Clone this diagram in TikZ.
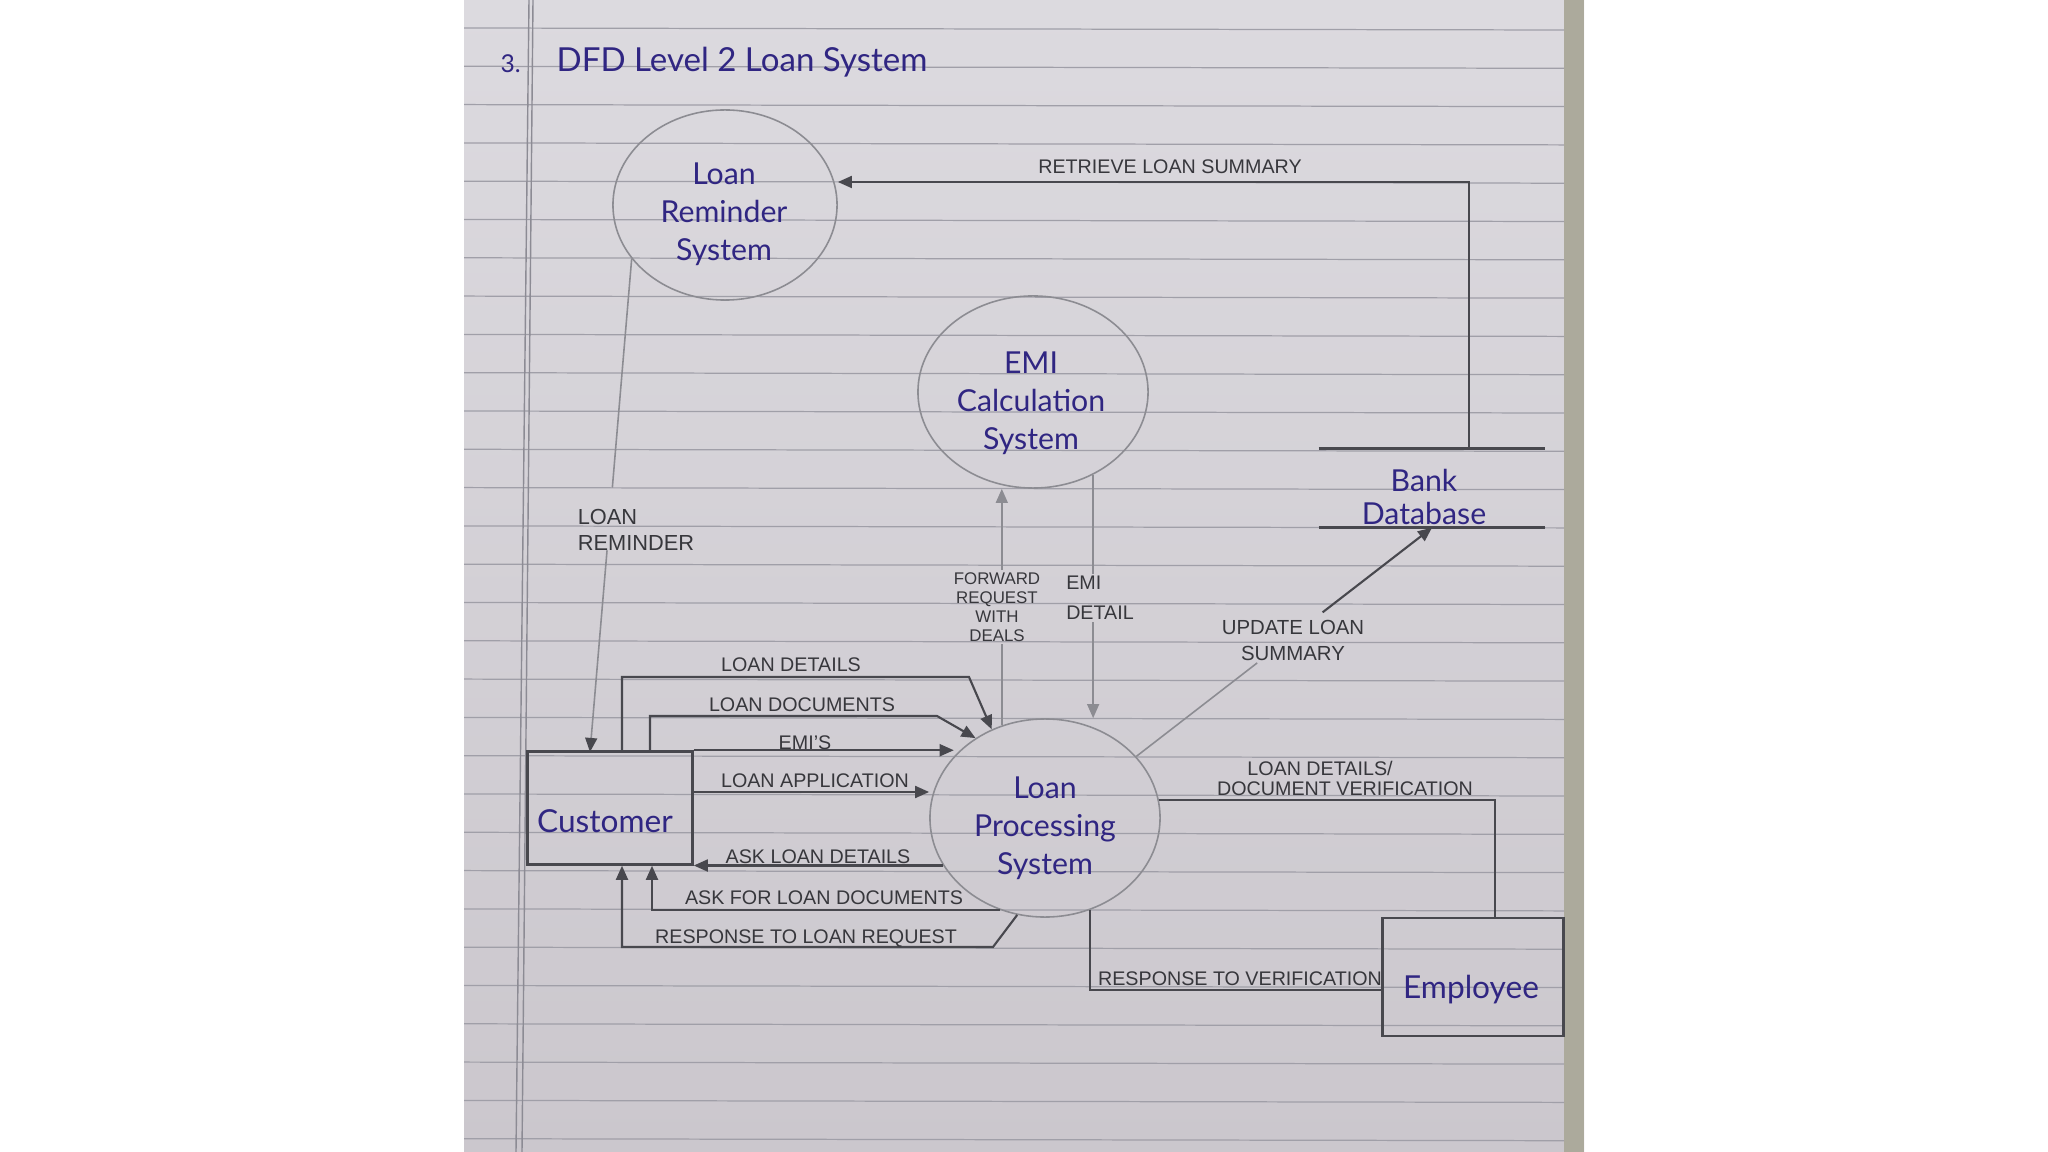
\documentclass[tikz,border=0pt]{standalone}
\usepackage{fontspec}
\setmainfont{Liberation Sans}
\newfontfamily\inkfont{Lato}
\usetikzlibrary{arrows.meta, shapes.geometric, calc}
\definecolor{papert}{RGB}{220,218,223}
\definecolor{paperb}{RGB}{203,199,205}
\definecolor{pedge}{RGB}{172,170,156}
\definecolor{rline}{RGB}{160,159,168}
\definecolor{mline}{RGB}{140,139,148}
\definecolor{pen}  {RGB}{ 72, 72, 78}
\definecolor{faint}{RGB}{140,140,146}
\definecolor{ink}  {RGB}{ 48, 38,130}
\definecolor{lbl}  {RGB}{ 55, 55, 60}
\tikzset{
  RL/.style={rline, line width=0.35pt},
  PR/.style={ellipse, draw=faint, line width=0.45pt, inner sep=0pt},
  PT/.style={text=ink, inner sep=0pt, align=center,
             font=\inkfont\fontsize{8.6}{10.8}\selectfont},
  EX/.style={rectangle, draw=pen, line width=0.7pt, inner sep=0pt},
  ET/.style={text=ink, inner sep=0pt, font=\inkfont\fontsize{9}{11}\selectfont},
  DT/.style={text=ink, inner sep=0pt, align=center,
             font=\inkfont\fontsize{8.6}{9.6}\selectfont},
  SL/.style={pen, line width=0.7pt},
  FL/.style={pen, line width=0.6pt, -{Triangle[length=4pt,width=3.4pt]}},
  FN/.style={pen, line width=0.6pt},
  LA/.style={faint, line width=0.45pt, -{Triangle[length=4pt,width=3.4pt]}},
  LN/.style={faint, line width=0.45pt},
  LB/.style={text=lbl, inner sep=0.5pt, font=\fontsize{5.6}{8.5}\selectfont},
  TT/.style={text=ink, inner sep=0pt, font=\inkfont\fontsize{9.4}{11}\selectfont},
}
\newcommand{\RY}{28}
\newcommand{\RS}{38.3}

\begin{document}
\begin{tikzpicture}[x=0.01cm, y=-0.01cm]
\useasboundingbox (0,0) rectangle (2048,1152);

%% ================================================================
%%  SHEET
%% ================================================================
\fill[white] (0,0) rectangle (2048,1152);
\shade[top color=papert, bottom color=paperb] (464,0) rectangle (1584,1152);
\fill[pedge] (1564,0) rectangle (1584,1152);
\foreach \k in {0,...,29}
  \draw[RL] (464,{\RY+\RS*\k}) -- (1564,{\RY+\RS*\k+2});
% margin
\draw[mline, line width=0.4pt] (529,0) -- (516,1152);
\draw[mline, line width=0.4pt] (533,0) -- (522,1152);

%% ================================================================
%%  TITLE
%% ================================================================
\node[TT, anchor=west, font=\inkfont\fontsize{7}{8}\selectfont] (num) at (500,64) {3.};
\node[TT, anchor=west] (title) at (556,62) {DFD Level 2 Loan System};

%% ================================================================
%%  PROCESSES, ENTITIES, STORE
%% ================================================================
\node[PR, minimum width=2.24cm, minimum height=1.90cm] (lrs) at (725,205) {};
\node[PT] (lrsT) at (724,214) {Loan\\Reminder\\System};
\node[PR, minimum width=2.30cm, minimum height=1.92cm] (emi) at (1033,392) {};
\node[PT] (emiT) at (1031,403) {EMI\\Calculation\\System};
\node[PR, minimum width=2.30cm, minimum height=1.98cm] (lps) at (1045,818) {};
\node[PT] (lpsT) at (1045,828) {Loan\\Processing\\System};

\node[EX, minimum width=1.65cm, minimum height=1.13cm] (cust) at (610,808) {};
\node[ET] (custT) at (605,821) {Customer};
\node[EX, minimum width=1.81cm, minimum height=1.18cm] (emp) at (1473,977) {};
\node[ET] (empT) at (1471,990) {Employee};

\node[minimum width=2.25cm, minimum height=0.78cm, inner sep=0pt] (bank) at (1432,488) {};
\node[DT] (bankT) at (1424,497) {Bank\\Database};
\draw[SL] (bank.north west) -- (bank.north east);
\draw[SL] (bank.south west) -- (bank.south east);

%% ================================================================
%%  FLOWS
%% ================================================================
% retrieve loan summary
\coordinate (rt) at (1469,182);
\draw[FL] (bank.north -| rt) -- (rt) -- (rt -| lrs.east);
\node[LB] (rtl) at (1170,167) {RETRIEVE LOAN SUMMARY};

% loan reminder
\node[LB, align=left, font=\fontsize{6.2}{7.4}\selectfont] (lrl) at (636,530) {LOAN\\REMINDER};
\coordinate (lrE) at (590,752);
\coordinate (lr1) at ($(lrs.210)!0.464!(lrE)$);
\coordinate (lr2) at ($(lrs.210)!0.591!(lrE)$);
\draw[LN] (lrs.210) -- (lr1);
\draw[LN, -{Triangle[length=4pt,width=3.4pt,color=pen]}] (lr2) -- (lrE);

% loan details
\coordinate (ld0) at (622,677);
\coordinate (ld1) at (969,677);
\draw[FL] (cust.north -| ld0) -- (ld0) -- (ld1) -- (lps.121);
\node[LB] (ldl) at (791,665) {LOAN DETAILS};

% loan documents
\coordinate (lc0) at (650,716);
\coordinate (lc1) at (937,716);
\draw[FL] (cust.north -| lc0) -- (lc0) -- (lc1) -- (lps.131);
\node[LB] (lcl) at (802,705) {LOAN DOCUMENTS};

% emi's
\draw[FL] (cust.north east) -- (cust.north east -| lps.146);
\node[LB] (eml) at (805,743) {EMI'S};

% loan application
\coordinate (la) at (700,792);
\draw[FL] (cust.east |- la) -- (lps.west |- la);
\node[LB] (lal) at (815,781) {LOAN APPLICATION};

% ask loan details
\draw[FL] (lps.205) -- (lps.205 -| cust.east);
\node[LB] (akl) at (818,857) {ASK LOAN DETAILS};

% ask for loan documents
\coordinate (ad) at (652,907);
\draw[FL] (lps.244) -| (cust.south -| ad);
\node[LB] (adl) at (824,898) {ASK FOR LOAN DOCUMENTS};

% response to loan request
\coordinate (rq1) at (993,947);
\coordinate (rq2) at (622,947);
\draw[FL] (lps.254) -- (rq1) -- (rq2) -- (cust.south -| rq2);
\node[LB] (rql) at (806,938) {RESPONSE TO LOAN REQUEST};

% forward request with deals
\node[LB, align=center, font=\fontsize{4.8}{5.4}\selectfont] (fwd) at (997,607) {FORWARD\\REQUEST\\WITH\\DEALS};
\draw[LN] (lps.115) -- (lps.115 |- fwd.south);
\draw[LA] (lps.115 |- fwd.north) -- (lps.115 |- emi.south);

% emi detail
\node[LB, align=left] (emd) at (1100,598) {EMI\\DETAIL};
\draw[LN] (emi.306) -- (emi.306 |- emd.north);
\draw[LA] (emi.306 |- emd.south) -- (emi.306 |- lps.north);

% update loan summary
\node[LB, align=center, font=\fontsize{5.8}{7.4}\selectfont] (uls) at (1293,640) {UPDATE LOAN\\SUMMARY};
\coordinate (us1) at ($(lps.34)!0.409!(bank.south)$);
\coordinate (us2) at ($(lps.34)!0.630!(bank.south)$);
\draw[LN] (lps.34) -- (us1);
\draw[FL] (us2) -- (bank.south);

% loan details / document verification
\coordinate (dv) at (1495,800);
\draw[FN] (lps.9) -| (emp.north -| dv);
\node[LB] (dv1) at (1320,768) {LOAN DETAILS/};
\node[LB] (dv2) at (1345,789) {DOCUMENT VERIFICATION};

% response to verification
\coordinate (rv) at (1400,990);
\draw[FN] (emp.west |- rv) -| (lps.296);
\node[LB] (rvl) at (1240,979) {RESPONSE TO VERIFICATION};

\end{tikzpicture}
\end{document}
